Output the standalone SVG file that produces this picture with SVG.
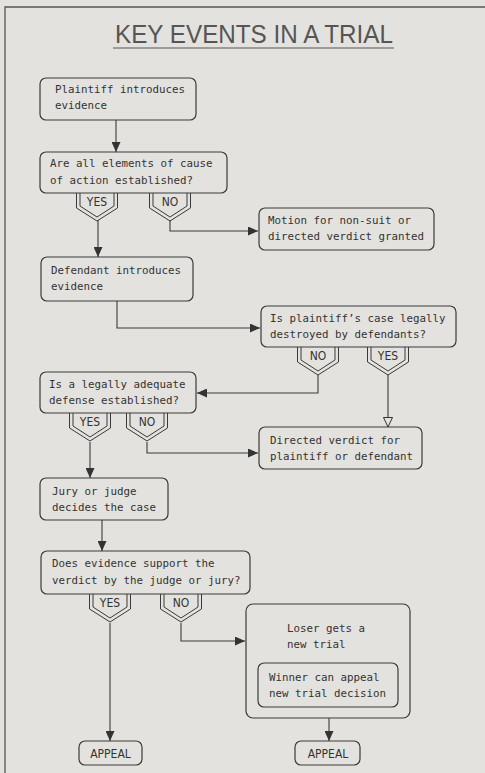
<svg xmlns="http://www.w3.org/2000/svg" width="485" height="773" viewBox="0 0 485 773">
<style>
.bg{fill:#e3e2de}
.frame{fill:none;stroke:#555;stroke-width:1.3}
.box{fill:none;stroke:#3a3a3a;stroke-width:1.2}
.t{font-family:"DejaVu Sans Mono","Liberation Mono",monospace;font-size:10.8px;fill:#333}
.title{font-family:"Liberation Sans",Arial,sans-serif;font-size:25px;fill:#555}
.bt{font-family:"DejaVu Sans Condensed","Liberation Sans",sans-serif;font-size:12px;fill:#333;text-anchor:middle}
.c{fill:none;stroke:#3a3a3a;stroke-width:1.1}
.badge path{fill:none;stroke:#3a3a3a;stroke-width:1}
</style>
<defs>
<marker id="ah" markerUnits="userSpaceOnUse" markerWidth="10" markerHeight="9" refX="10" refY="4.5" orient="auto" viewBox="0 0 10 9">
<path d="M0,0 L10,4.5 L0,9 z" fill="#333"/>
</marker>
<marker id="ho" markerUnits="userSpaceOnUse" markerWidth="12" markerHeight="11" refX="10.5" refY="5.5" orient="auto" viewBox="0 0 12 11">
<path d="M1,1 L10.5,5.5 L1,10 z" fill="#e3e2de" stroke="#333" stroke-width="1"/>
</marker>
<g id="badge" class="badge">
<path d="M-20.5,0 V15 L0,28 L20.5,15 V0"/>
<path d="M-17,0 V13 L0,24 L17,13 V0"/>
</g>
</defs>
<rect class="bg" x="0" y="0" width="485" height="773"/>
<path class="frame" d="M5,773 V7 H485"/>

<g id="title">
<text class="title" x="254" y="43" text-anchor="middle" textLength="278" lengthAdjust="spacingAndGlyphs">KEY EVENTS IN A TRIAL</text>
<line x1="113" y1="48" x2="394" y2="48" stroke="#555" stroke-width="1.2"/>
</g>

<g id="connectors">
<path class="c" d="M116,120 V152" marker-end="url(#ah)"/>
<path class="c" d="M98,220 V257" marker-end="url(#ah)"/>
<path class="c" d="M170,220 V231 H258" marker-end="url(#ah)"/>
<path class="c" d="M117,301 V328 H260" marker-end="url(#ah)"/>
<path class="c" d="M318,375 V393 H197" marker-end="url(#ah)"/>
<path class="c" d="M388,375 V427" marker-end="url(#ho)"/>
<path class="c" d="M90,442 V478" marker-end="url(#ah)"/>
<path class="c" d="M147,442 V453 H258" marker-end="url(#ah)"/>
<path class="c" d="M102,520 V551" marker-end="url(#ah)"/>
<path class="c" d="M110,623 V741" marker-end="url(#ah)"/>
<path class="c" d="M181,623 V641 H245" marker-end="url(#ah)"/>
<path class="c" d="M329,718 V741" marker-end="url(#ah)"/>
</g>

<g id="n-plaintiff">
<rect class="box" x="40" y="78" width="156" height="42" rx="6"/>
<text class="t" x="55" y="93">Plaintiff introduces</text>
<text class="t" x="55" y="109">evidence</text>
</g>

<g id="n-elements">
<rect class="box" x="40" y="152" width="187" height="41" rx="6"/>
<text class="t" x="50" y="167">Are all elements of cause</text>
<text class="t" x="50" y="184">of action established?</text>
<use href="#badge" x="97" y="193"/>
<text class="bt" x="97" y="206">YES</text>
<use href="#badge" x="170" y="193"/>
<text class="bt" x="170" y="206">NO</text>
</g>

<g id="n-motion">
<rect class="box" x="259" y="208" width="175" height="42" rx="6"/>
<text class="t" x="268" y="224">Motion for non-suit or</text>
<text class="t" x="268" y="240">directed verdict granted</text>
</g>

<g id="n-defendant">
<rect class="box" x="41" y="257" width="152" height="44" rx="6"/>
<text class="t" x="51" y="274">Defendant introduces</text>
<text class="t" x="51" y="290">evidence</text>
</g>

<g id="n-destroyed">
<rect class="box" x="261" y="306" width="195" height="41" rx="6"/>
<text class="t" x="270" y="322">Is plaintiff’s case legally</text>
<text class="t" x="270" y="338">destroyed by defendants?</text>
<use href="#badge" x="318" y="347"/>
<text class="bt" x="318" y="360">NO</text>
<use href="#badge" x="388" y="347"/>
<text class="bt" x="388" y="360">YES</text>
</g>

<g id="n-defense">
<rect class="box" x="40" y="372" width="156" height="41" rx="6"/>
<text class="t" x="49" y="388">Is a legally adequate</text>
<text class="t" x="49" y="404">defense established?</text>
<use href="#badge" x="90" y="413"/>
<text class="bt" x="90" y="426">YES</text>
<use href="#badge" x="147" y="413"/>
<text class="bt" x="147" y="426">NO</text>
</g>

<g id="n-directed">
<rect class="box" x="259" y="427" width="163" height="42" rx="6"/>
<text class="t" x="270" y="444">Directed verdict for</text>
<text class="t" x="270" y="460">plaintiff or defendant</text>
</g>

<g id="n-jury">
<rect class="box" x="40" y="478" width="128" height="42" rx="6"/>
<text class="t" x="52" y="495">Jury or judge</text>
<text class="t" x="52" y="511">decides the case</text>
</g>

<g id="n-support">
<rect class="box" x="41" y="551" width="209" height="43" rx="6"/>
<text class="t" x="52" y="567">Does evidence support the</text>
<text class="t" x="52" y="584">verdict by the judge or jury?</text>
<use href="#badge" x="110" y="594"/>
<text class="bt" x="110" y="607">YES</text>
<use href="#badge" x="181" y="594"/>
<text class="bt" x="181" y="607">NO</text>
</g>

<g id="n-newtrial">
<rect class="box" x="246" y="604" width="164" height="114" rx="7"/>
<text class="t" x="287" y="632">Loser gets a</text>
<text class="t" x="287" y="648">new trial</text>
<rect class="box" x="258" y="663" width="140" height="44" rx="6"/>
<text class="t" x="269" y="681">Winner can appeal</text>
<text class="t" x="269" y="697">new trial decision</text>
</g>

<g id="n-appeal1">
<rect class="box" x="79" y="741" width="63" height="24" rx="6"/>
<text class="bt" x="110.5" y="757.5">APPEAL</text>
</g>

<g id="n-appeal2">
<rect class="box" x="295" y="741" width="65" height="24" rx="6"/>
<text class="bt" x="328" y="757.5">APPEAL</text>
</g>
</svg>
